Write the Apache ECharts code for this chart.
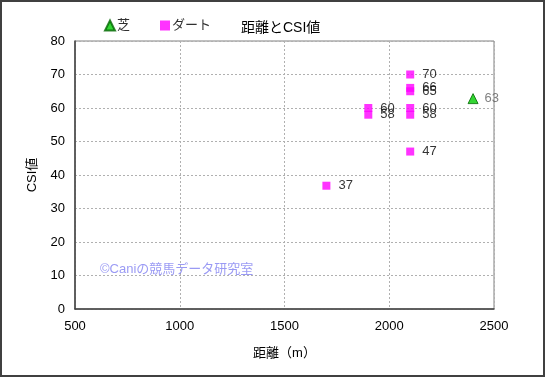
<!DOCTYPE html>
<html><head><meta charset="utf-8">
<script src="https://cdn.jsdelivr.net/npm/echarts@6/dist/echarts.min.js"></script>
<style>html,body{margin:0;padding:0;background:#fff}#c{width:545px;height:377px}</style>
</head><body><div id="c"></div>
<script>
const titleText = '距離とCSI値';
const seriesNames = ['芝', 'ダート'];
const turfX = [2400];
const turfY = [62.8];
const dirtX = [1700, 1900, 1900, 2100, 2100, 2100, 2100, 2100, 2100];
const dirtY = [36.8, 60, 58, 70, 66, 65, 60, 58, 47];
const xName = '距離（m）';
const yName = 'CSI値';
const watermark = '©Caniの競馬データ研究室';

const FONT = '"Liberation Sans", "Noto Sans CJK JP", sans-serif';
const chart = echarts.init(document.getElementById('c'));
chart.setOption({
  animation: false,
  backgroundColor: '#fff',
  textStyle: { fontFamily: FONT },
  title: { text: titleText, left: 236, top: 16, textStyle: { fontSize: 14, fontWeight: 'normal', color: '#000', fontFamily: FONT } },
  legend: {
    left: 99, top: 14, itemWidth: 10, itemHeight: 10, itemGap: 30,
    textStyle: { fontSize: 13, color: '#303030', padding: [0,0,0,-3] },
    data: [{ name: seriesNames[0], icon: 'triangle' }, { name: seriesNames[1], icon: 'rect' }]
  },
  grid: { left: 75, right: 51, top: 41, bottom: 68, show: true, borderColor: '#808080', borderWidth: 1 },
  xAxis: {
    type: 'value', min: 500, max: 2500, interval: 500,
    name: xName, nameLocation: 'middle', nameGap: 38,
    nameTextStyle: { fontSize: 13, color: '#000' },
    axisLine: { show: true, lineStyle: { color: '#404040', width: 1.5 } },
    axisTick: { show: false },
    axisLabel: { fontSize: 13, color: '#000', margin: 11, formatter: v => String(v) },
    splitLine: { show: true, lineStyle: { color: '#b0b0b0', type: [2, 2] } }
  },
  yAxis: {
    type: 'value', min: 0, max: 80, interval: 10,
    name: yName, nameLocation: 'middle', nameGap: 36,
    nameTextStyle: { fontSize: 13, color: '#000' },
    axisLine: { show: true, lineStyle: { color: '#404040', width: 1.5 } },
    axisTick: { show: false },
    axisLabel: { fontSize: 13, color: '#000', margin: 10 },
    splitLine: { show: true, lineStyle: { color: '#b0b0b0', type: [2, 2] } }
  },
  series: [
    {
      name: seriesNames[0], type: 'scatter', symbol: 'triangle', symbolSize: 10,
      itemStyle: { color: '#00cc00', borderColor: '#006600', borderWidth: 1 },
      label: { show: true, position: 'right', distance: 6, fontSize: 13, color: '#606060',
        formatter: p => Math.round(p.value[1]) },
      data: turfX.map((x, i) => [x, turfY[i]])
    },
    {
      name: seriesNames[1], type: 'scatter', symbol: 'rect', symbolSize: 8,
      itemStyle: { color: '#ff00ff' },
      label: { show: true, position: 'right', distance: 8, fontSize: 13, color: '#000',
        formatter: p => Math.round(p.value[1]) },
      data: dirtX.map((x, i) => [x, dirtY[i]])
    }
  ],
  graphic: [
    { type: 'text', left: 100, top: 263, z: 100,
      style: { text: watermark, fontSize: 13, fill: 'rgba(120,120,240,0.75)', fontFamily: FONT } },
    { type: 'rect', shape: { x: 1, y: 1, width: 543, height: 375 }, z: 100,
      style: { fill: 'none', stroke: '#404040', lineWidth: 2 } }
  ]
});
</script></body></html>
